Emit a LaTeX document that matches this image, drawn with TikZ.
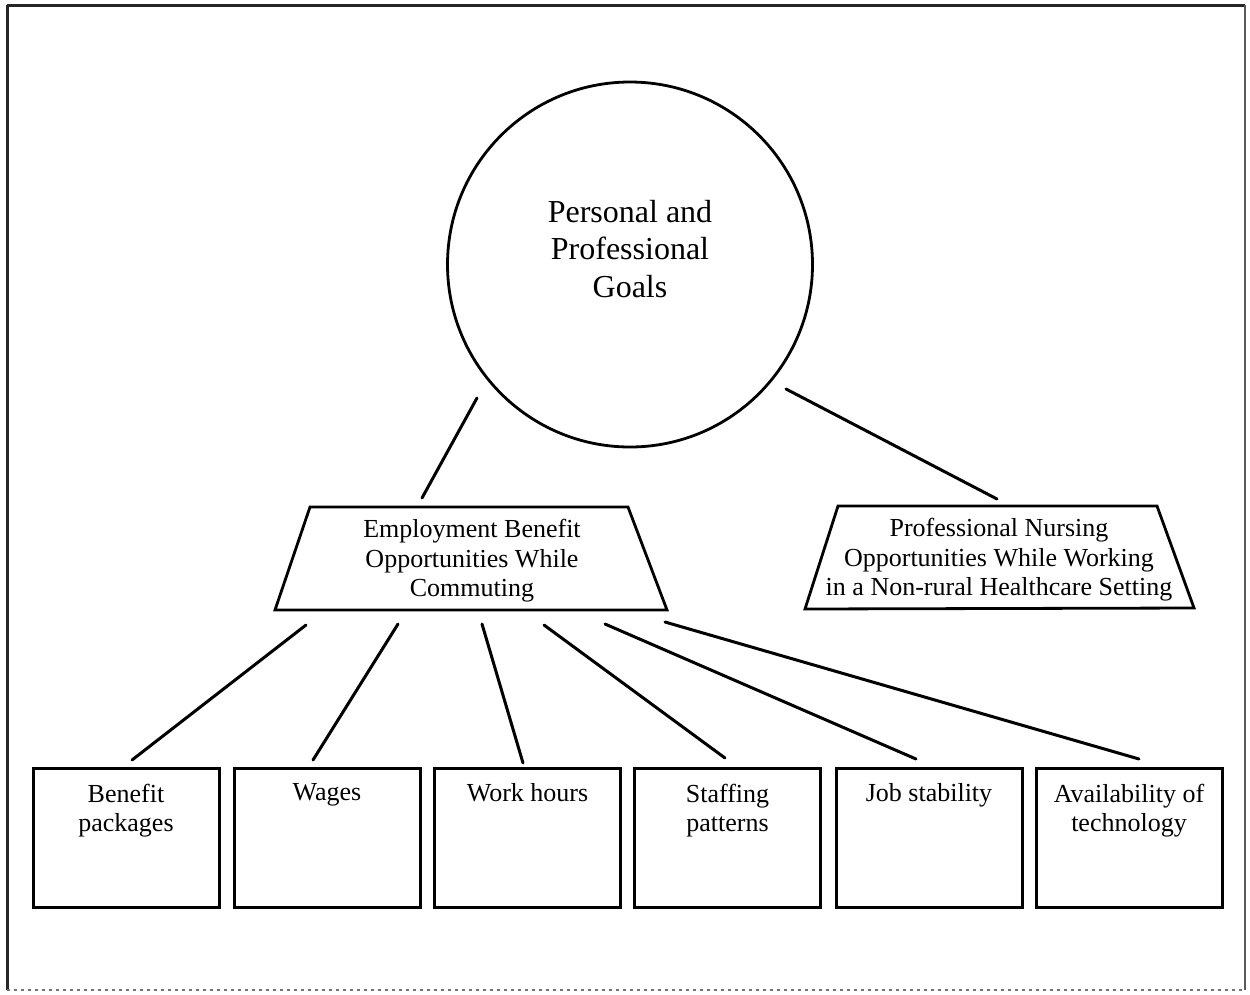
\documentclass[tikz,border=0pt]{standalone}
\usepackage{fontspec}
\setmainfont{Liberation Serif}
\begin{document}
\begin{tikzpicture}[x=1pt,y=-1pt,
  conn/.style={line width=3pt, line cap=round},
  shapeline/.style={line width=2.8pt, line join=miter},
  box/.style={draw, line width=3pt, minimum width=186pt, minimum height=139pt, inner sep=0pt},
  big/.style={font=\fontsize{32}{37.5}\selectfont, align=center, inner sep=0pt, anchor=north},
  txt/.style={font=\fontsize{26}{29.5}\selectfont, align=center, inner sep=0pt, anchor=north}]
\useasboundingbox (0,0) rectangle (1250,994);
% scanned page frame
\draw[line width=3pt, black!85] (7,5) -- (1245,5);
\draw[line width=3pt, black!85] (7,5) -- (7,990);
\draw[line width=2pt, black!65] (1245,5) -- (1245,990);
\draw[line width=1.2pt, black!55, dash pattern=on 3pt off 4pt] (7,990) -- (1245,990);

% central circle
\node[draw, circle, line width=2.8pt, minimum size=365pt, inner sep=0pt] (goal) at (630,264.5) {};
\node[big] (goaltext) at (630,200) {Personal and\\Professional\\Goals};

% trapezoids
\draw[shapeline] (275,610) -- (310,507) -- (628,507) -- (667,610) -- cycle;
\node[txt] (emp) at (472,519) {Employment Benefit\\Opportunities While\\Commuting};
\draw[shapeline] (805,609) -- (838,506) -- (1157,506) -- (1194,608) -- cycle;
\node[txt] (nurse) at (999,518) {Professional Nursing\\Opportunities While Working\\in a Non-rural Healthcare Setting};

% boxes
\node[box] (b1) at (126,837.5) {};
\node[box] (b2) at (327,837.5) {};
\node[box] (b3) at (527.5,837.5) {};
\node[box] (b4) at (727.5,837.5) {};
\node[box] (b5) at (929,837.5) {};
\node[box] (b6) at (1129,837.5) {};
\node[txt] (bt1) at ([yshift=-17pt]b1.north) {Benefit\\packages};
\node[txt] (bt2) at ([yshift=-17pt]b2.north) {Wages};
\node[txt] (bt3) at ([yshift=-17pt]b3.north) {Work hours};
\node[txt] (bt4) at ([yshift=-17pt]b4.north) {Staffing\\patterns};
\node[txt] (bt5) at ([yshift=-17pt]b5.north) {Job stability};
\node[txt] (bt6) at ([yshift=-17pt]b6.north) {Availability of\\technology};

% connector end points
\coordinate (g1) at (477,398); \coordinate (e0) at (422,498);
\coordinate (g2) at (786,389); \coordinate (n0) at (997,499);
\coordinate (e1) at (306,625); \coordinate (c1) at (132,760);
\coordinate (e2) at (398,624); \coordinate (c2) at (313,760);
\coordinate (e3) at (482,624); \coordinate (c3) at (523,763);
\coordinate (e4) at (544,625); \coordinate (c4) at (725,758);
\coordinate (e5) at (605,624); \coordinate (c5) at (916,759);
\coordinate (e6) at (665,622); \coordinate (c6) at (1139,759);

\draw[conn] (g1) -- (e0);
\draw[conn] (g2) -- (n0);
\draw[conn] (e1) -- (c1);
\draw[conn] (e2) -- (c2);
\draw[conn] (e3) -- (c3);
\draw[conn] (e4) -- (c4);
\draw[conn] (e5) -- (c5);
\draw[conn] (e6) -- (c6);
\end{tikzpicture}
\end{document}
